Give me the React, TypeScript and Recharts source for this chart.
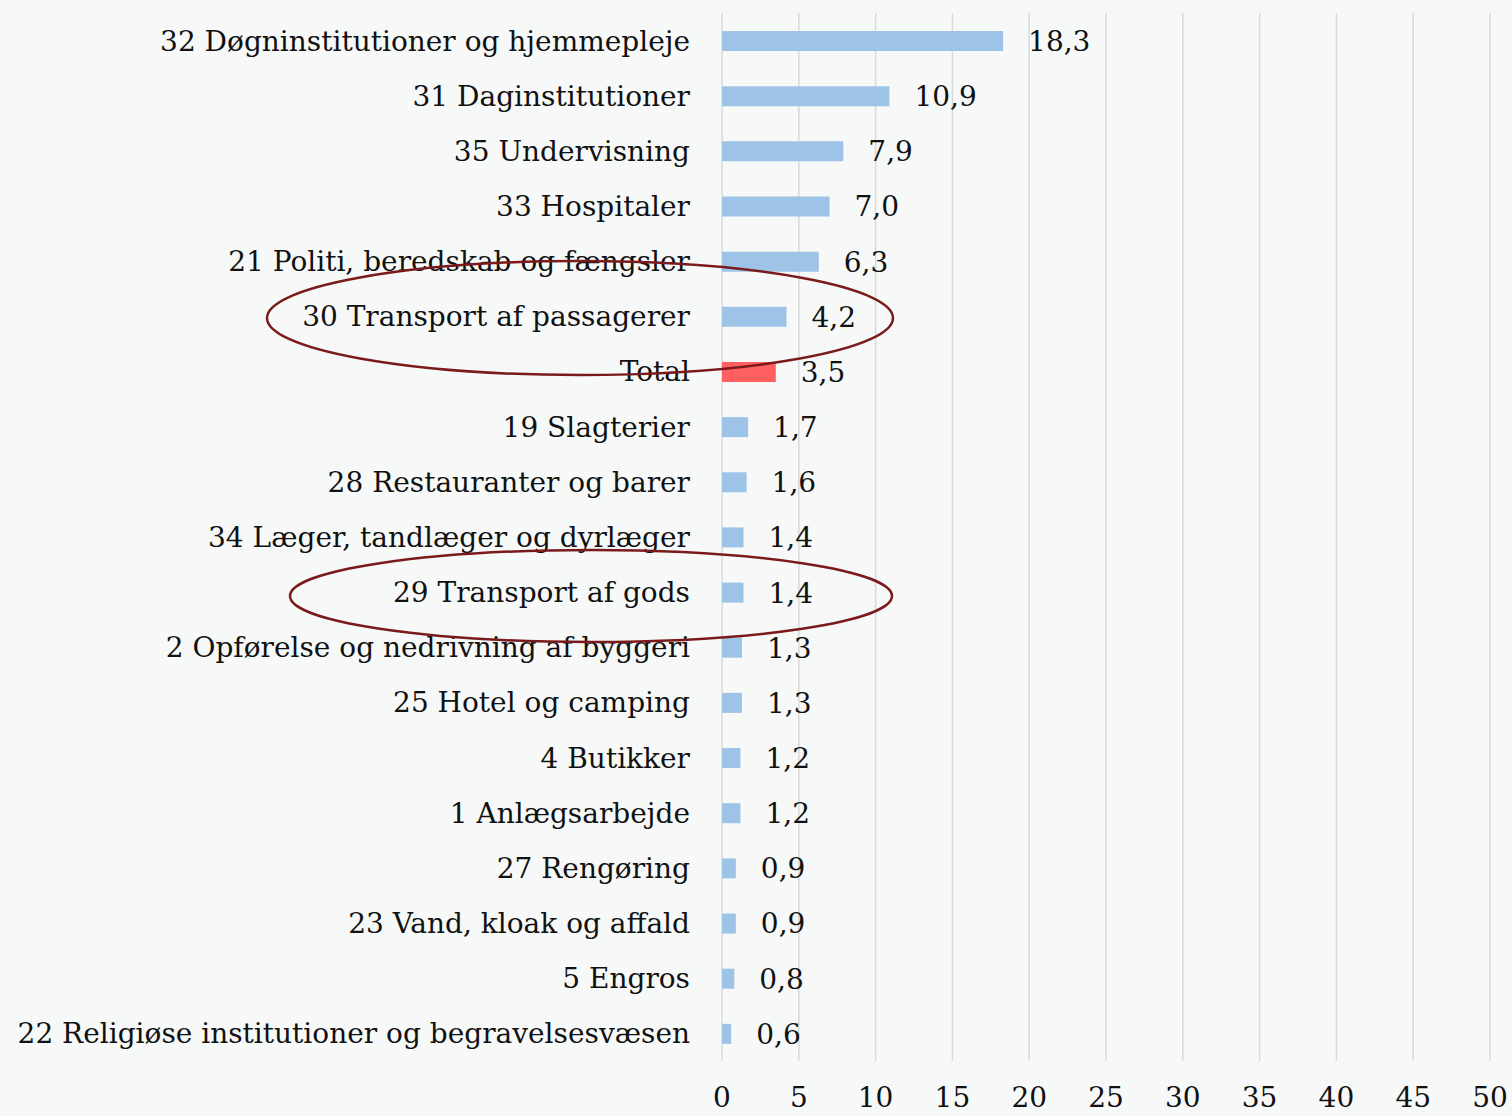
import React from 'react';
import { BarChart, Bar, XAxis, YAxis, CartesianGrid, Cell, LabelList } from 'recharts';

const CATEGORIES = [
  '32 Døgninstitutioner og hjemmepleje',
  '31 Daginstitutioner',
  '35 Undervisning',
  '33 Hospitaler',
  '21 Politi, beredskab og fængsler',
  '30 Transport af passagerer',
  'Total',
  '19 Slagterier',
  '28 Restauranter og barer',
  '34 Læger, tandlæger og dyrlæger',
  '29 Transport af gods',
  '2 Opførelse og nedrivning af byggeri',
  '25 Hotel og camping',
  '4 Butikker',
  '1 Anlægsarbejde',
  '27 Rengøring',
  '23 Vand, kloak og affald',
  '5 Engros',
  '22 Religiøse institutioner og begravelsesvæsen',
];

const VALUES = [18.3, 10.9, 7.9, 7.0, 6.3, 4.2, 3.5, 1.7, 1.6, 1.4, 1.4, 1.3, 1.3, 1.2, 1.2, 0.9, 0.9, 0.8, 0.6];

const X_TICKS = [0, 5, 10, 15, 20, 25, 30, 35, 40, 45, 50];

const data = CATEGORIES.map((name, i) => ({ name, value: VALUES[i] }));

const FONT = '"DejaVu Serif", serif';
const BLUE = '#9dc3e6';
const RED = '#ff5f5f';

const fmt = (v: any) => Number(v).toFixed(1).replace('.', ',');

export default function App() {
  return (
    <div style={{ position: 'fixed', left: 0, top: 0, width: 1512, height: 1116, background: '#f7f9f9' }}>
      <BarChart
        width={1512}
        height={1116}
        data={data}
        layout="vertical"
        margin={{ top: 13, right: 22, bottom: 0, left: 0 }}
        barCategoryGap={0}
      >
        <CartesianGrid horizontal={false} stroke="#d9d9d9" strokeWidth={1.5} />
        <XAxis
          type="number"
          domain={[0, 50]}
          ticks={X_TICKS}
          axisLine={false}
          tickLine={false}
          tickSize={0}
          tickMargin={26}
          height={55}
          tick={{ fontFamily: FONT, fontSize: 28, fill: '#111' }}
        />
        <YAxis
          type="category"
          dataKey="name"
          width={722}
          axisLine={false}
          tickLine={false}
          tickSize={0}
          tickMargin={32}
          interval={0}
          tick={{ fontFamily: FONT, fontSize: 28, fill: '#111' }}
        />
        <Bar dataKey="value" barSize={20} isAnimationActive={false}>
          {data.map((d, i) => (
            <Cell key={i} fill={d.name === 'Total' ? RED : BLUE} />
          ))}
          <LabelList
            dataKey="value"
            position="right"
            offset={25}
            formatter={fmt}
            style={{ fontFamily: FONT, fontSize: 28, fill: '#111' }}
          />
        </Bar>
      </BarChart>
      <svg width={1512} height={1116} style={{ position: 'absolute', left: 0, top: 0, pointerEvents: 'none' }}>
        <ellipse cx={580} cy={318} rx={313} ry={57} fill="none" stroke="#7b1a1a" strokeWidth={2.5} />
        <ellipse cx={591} cy={596} rx={301} ry={46} fill="none" stroke="#7b1a1a" strokeWidth={2.5} />
      </svg>
    </div>
  );
}
